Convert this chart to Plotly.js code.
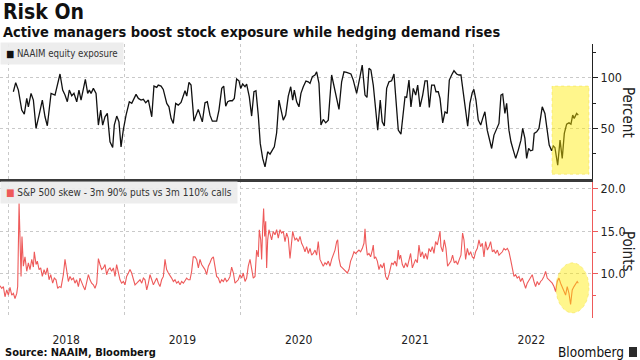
<!DOCTYPE html>
<html>
<head>
<meta charset="utf-8">
<script src="https://cdn.plot.ly/plotly-3.0.1.min.js"></script>
<style>html,body{margin:0;padding:0;background:#fff;}#chart{width:640px;height:360px;}</style>
</head>
<body>
<div id="chart"></div>
<script>
// ---- Data (x in decimal years) ----
const yearLabels = ['2018','2019','2020','2021','2022'];
const yearStarts = [2018, 2019, 2020, 2021, 2022];

const naaimDates = [
2018.046,2018.066,2018.089,2018.118,2018.140,2018.161,2018.175,2018.198,2018.218,2018.241,
2018.267,2018.295,2018.318,2018.338,2018.370,2018.404,2018.447,2018.470,2018.490,2018.510,
2018.527,2018.548,2018.567,2018.591,2018.610,2018.628,2018.665,2018.685,2018.699,2018.714,
2018.734,2018.757,2018.777,2018.797,2018.814,2018.834,2018.854,2018.877,2018.900,2018.914,
2018.935,2018.954,2018.972,2018.991,2019.015,2019.043,2019.064,2019.101,2019.121,2019.144,
2019.164,2019.184,2019.207,2019.236,2019.255,2019.279,2019.292,2019.316,2019.335,2019.365,
2019.384,2019.402,2019.421,2019.442,2019.464,2019.488,2019.522,2019.537,2019.556,2019.574,
2019.599,
2019.636,2019.671,2019.694,2019.714,2019.737,2019.757,2019.780,2019.794,2019.814,2019.838,
2019.855,2019.872,2019.889,2019.909,2019.929,2019.946,2019.966,2019.986,2020.001,2020.018,
2020.038,2020.052,2020.075,2020.095,2020.115,2020.132,2020.152,2020.169,2020.190,2020.210,
2020.233,2020.253,2020.273,2020.290,2020.310,2020.330,2020.347,2020.367,2020.388,2020.410,
2020.431,2020.448,2020.462,2020.482,2020.502,2020.519,2020.539,2020.562,2020.582,2020.597,
2020.617,2020.640,2020.654,2020.674,2020.691,2020.711,2020.732,2020.754,2020.783,2020.806,
2020.826,2020.846,2020.869,2020.889,2020.912,2020.932,2020.949,2020.969,2020.998,2021.027,
2021.046,2021.070,2021.087,2021.104,2021.121,2021.141,2021.158,2021.179,2021.201,2021.218,
2021.236,2021.256,2021.276,2021.299,
2021.319,2021.336,2021.356,2021.379,2021.399,2021.414,2021.428,2021.448,2021.465,2021.485,
2021.506,2021.523,2021.543,2021.566,2021.586,2021.605,2021.623,2021.643,2021.666,2021.680,
2021.700,2021.715,2021.738,2021.758,2021.777,2021.795,2021.815,2021.835,2021.858,2021.878,
2021.895,2021.915,2021.935,2021.953,2021.972,2021.992,2022.006,2022.024,2022.044,2022.065,
2022.082,2022.101,2022.121,2022.139,2022.159,2022.179,2022.202,2022.222,2022.239,2022.254,
2022.273,2022.288,2022.308,2022.325,2022.345,2022.366,2022.388,2022.411,2022.426,2022.445,
2022.460,2022.477,2022.494,2022.512,2022.525,2022.546,2022.566,2022.594,2022.617,2022.637,
2022.654,2022.675,2022.689,2022.703,2022.727,2022.747,2022.766,2022.784,2022.804,2022.824,
2022.841,2022.856,2022.869,2022.890,2022.904
];
const naaimValues = [
86.2,95.1,87.8,68.1,64.1,79.6,71.3,84.6,78.0,50.0,
63.1,78.0,61.5,52.6,84.6,82.9,103.7,87.8,82.9,76.3,
87.8,82.2,84.6,76.3,87.8,78.0,98.4,84.6,87.8,84.6,
89.5,84.6,53.3,68.1,53.3,61.5,64.8,36.8,31.2,53.3,
62.2,56.5,31.8,48.3,63.1,76.3,74.7,83.6,79.6,78.0,
78.7,75.3,78.0,61.5,91.8,90.5,92.8,91.8,88.5,74.7,
71.3,59.9,54.9,74.7,73.0,75.7,87.2,81.9,95.5,92.8,
57.2,
68.8,56.5,75.3,76.3,63.1,57.2,57.2,57.2,68.1,89.5,
91.8,72.0,76.3,77.3,77.3,79.6,98.7,97.0,89.5,93.8,
91.1,93.8,81.2,62.2,86.2,87.2,63.1,35.2,20.4,12.1,
26.9,24.6,28.6,31.8,45.7,78.0,68.8,58.2,63.1,81.9,
91.1,78.0,87.8,76.3,71.3,84.6,91.1,96.7,96.0,94.4,
101.0,102.7,105.9,94.4,53.3,58.9,55.5,58.2,102.7,89.5,
79.6,68.8,96.0,105.9,105.3,104.3,103.7,97.7,84.6,101.0,
112.5,82.9,80.6,109.3,107.6,92.8,74.7,48.3,78.0,56.5,
52.3,89.5,96.0,97.0,
103.7,81.2,48.3,44.4,64.8,81.2,80.6,97.7,71.3,89.5,
82.9,92.8,71.3,82.9,97.0,97.0,70.7,92.8,92.8,86.2,
86.2,79.6,55.5,66.4,64.8,97.7,102.7,106.9,103.7,102.7,
102.7,84.6,68.1,52.3,74.7,85.2,88.5,78.0,58.2,53.3,
59.9,66.4,48.3,38.4,30.2,43.4,50.0,54.9,82.9,83.9,
64.8,74.7,48.3,36.8,28.6,20.4,28.6,38.4,50.0,40.1,
20.4,30.2,27.9,28.6,45.1,46.7,50.0,71.3,64.8,50.0,
33.5,27.9,32.8,31.2,13.7,38.4,20.4,45.1,54.2,55.5,
54.2,63.1,59.9,64.8,63.1
];

const skewDates = [
2017.931,2017.946,2017.960,2017.974,2017.989,2018.003,2018.017,2018.032,2018.046,2018.060,
2018.075,2018.083,2018.095,2018.103,2018.112,2018.120,2018.132,2018.146,2018.161,2018.175,
2018.189,2018.204,2018.218,2018.226,2018.241,2018.252,2018.267,2018.281,2018.295,2018.310,
2018.324,2018.338,2018.353,2018.367,2018.384,2018.398,2018.413,2018.427,2018.441,2018.456,
2018.476,2018.490,2018.504,2018.519,2018.533,2018.547,2018.562,2018.576,2018.590,2018.605,
2018.619,2018.634,2018.648,2018.662,2018.677,2018.691,2018.705,2018.719,2018.734,2018.748,
2018.763,2018.777,2018.791,2018.805,2018.820,2018.834,2018.848,2018.863,2018.877,2018.891,
2018.906,2018.920,2018.934,2018.949,2018.963,2018.977,2018.992,2019.006,2019.020,2019.035,
2019.049,2019.063,2019.078,2019.092,2019.107,2019.121,2019.135,2019.150,2019.164,2019.178,
2019.193,2019.207,2019.221,2019.236,2019.250,2019.264,2019.279,2019.293,2019.307,2019.321,
2019.336,2019.350,2019.364,2019.379,2019.393,2019.407,2019.422,2019.436,2019.450,2019.465,
2019.479,2019.493,2019.508,2019.522,2019.536,2019.551,2019.565,2019.579,2019.593,
2019.608,2019.622,2019.637,2019.651,2019.665,2019.680,2019.694,2019.708,2019.723,2019.737,
2019.751,2019.766,2019.780,2019.794,2019.809,2019.823,2019.837,2019.852,2019.866,2019.880,
2019.895,2019.909,2019.923,2019.938,2019.952,2019.966,2019.980,2019.995,2020.009,2020.023,
2020.038,2020.052,2020.066,2020.081,2020.095,2020.109,2020.124,2020.138,2020.152,2020.161,
2020.173,2020.181,2020.190,2020.198,2020.207,2020.216,2020.224,2020.233,2020.244,2020.256,
2020.267,2020.281,2020.296,2020.310,2020.324,2020.339,2020.353,2020.367,2020.382,2020.396,
2020.410,2020.425,2020.439,2020.448,2020.459,2020.468,2020.482,2020.496,2020.511,2020.525,
2020.539,2020.554,2020.568,2020.582,2020.597,2020.611,2020.625,2020.640,2020.654,2020.668,
2020.683,2020.697,2020.711,2020.726,2020.740,2020.754,2020.769,2020.783,2020.797,2020.812,
2020.826,2020.835,2020.846,2020.860,2020.875,2020.889,2020.903,2020.918,2020.932,2020.946,
2020.961,2020.975,2020.989,2021.004,2021.018,2021.032,2021.047,2021.061,2021.070,2021.078,
2021.090,2021.104,2021.118,2021.133,2021.141,2021.150,2021.161,2021.176,2021.190,2021.204,
2021.219,2021.233,2021.247,2021.262,2021.276,
2021.299,2021.313,2021.328,2021.342,2021.356,2021.365,2021.376,2021.391,2021.405,2021.419,
2021.434,2021.448,2021.462,2021.477,2021.491,2021.505,2021.520,2021.534,2021.548,2021.563,
2021.577,2021.591,2021.606,2021.620,2021.634,2021.649,2021.663,2021.677,2021.692,2021.706,
2021.715,2021.723,2021.738,2021.752,2021.766,2021.780,2021.795,2021.809,2021.823,2021.838,
2021.852,2021.866,2021.881,2021.895,2021.909,2021.921,2021.935,2021.950,2021.964,2021.978,
2021.993,2022.007,2022.021,2022.036,2022.050,2022.064,2022.079,2022.093,2022.107,2022.122,
2022.136,2022.150,2022.165,2022.179,2022.193,2022.208,2022.222,2022.236,2022.251,2022.265,
2022.279,2022.294,2022.308,2022.322,2022.337,2022.351,2022.365,2022.379,2022.394,2022.408,
2022.423,2022.437,2022.451,2022.465,2022.480,2022.494,2022.508,2022.523,2022.537,2022.551,
2022.566,2022.580,2022.594,2022.609,2022.623,2022.637,2022.652,2022.666,2022.680,2022.695,
2022.709,2022.723,2022.738,2022.752,2022.766,2022.781,2022.795,2022.809,2022.824,2022.838,
2022.852,2022.867,2022.881,2022.895,2022.904
];
const skewValues = [
8.6,8.3,8.5,7.3,8.1,7.5,8.4,7.5,7.7,7.1,
7.7,8.5,18.3,13.2,9.7,14.4,10.9,12.0,10.3,11.3,
10.5,11.7,10.8,12.6,11.1,11.5,10.5,10.7,9.7,10.5,
9.9,10.7,9.3,9.9,8.9,9.5,9.3,8.3,8.5,8.4,
9.9,11.7,10.5,9.1,9.7,9.3,9.5,8.9,9.3,8.5,
9.5,8.9,8.5,8.1,8.9,9.9,9.3,8.9,8.7,8.3,
8.9,11.8,11.1,10.5,10.7,11.1,9.9,10.5,10.7,10.3,
10.7,9.7,11.1,10.1,9.3,8.9,9.1,8.7,9.7,10.1,
10.5,10.1,9.3,8.7,8.9,9.1,9.3,8.9,9.5,9.3,
8.1,8.9,9.9,9.3,8.7,9.1,9.5,8.9,8.5,9.3,
9.7,11.7,10.5,10.1,9.7,9.5,9.1,9.3,8.9,9.1,
8.7,9.1,8.9,9.3,9.5,9.3,9.3,10.3,12.0,
12.0,11.7,10.7,11.7,11.1,10.7,10.5,9.9,10.9,11.3,
11.8,12.0,10.7,9.7,9.5,8.9,9.3,9.1,9.5,9.1,
9.3,9.7,10.8,10.1,8.9,9.1,9.3,9.9,9.5,10.1,
9.1,9.5,10.9,11.7,10.5,9.5,9.7,12.8,12.0,15.2,
14.0,11.7,15.4,17.7,14.4,16.2,10.7,14.0,15.2,14.4,
14.0,15.0,14.6,15.2,14.2,15.2,14.8,15.0,13.8,14.8,
14.2,11.8,13.6,15.0,14.4,14.0,14.2,13.8,14.4,13.6,
13.2,12.6,13.2,12.4,13.0,12.2,12.4,12.8,12.2,13.8,
11.7,11.3,10.9,11.3,11.1,11.5,10.9,11.7,12.2,12.8,
13.8,14.0,11.8,10.9,10.7,10.5,10.3,10.1,10.5,11.5,
12.0,12.6,12.4,12.6,12.8,12.6,13.0,13.6,15.3,13.6,
12.2,12.4,12.0,12.8,13.4,11.8,12.0,11.5,10.5,11.1,
10.7,11.3,9.7,9.3,9.9,
11.3,11.1,11.5,10.9,12.8,11.7,12.2,11.1,10.7,11.3,
10.8,11.5,12.4,10.7,11.1,11.7,11.3,13.4,12.0,12.6,
11.8,12.4,11.7,13.0,12.6,13.2,12.4,13.8,13.4,14.2,
15.0,13.2,12.6,14.0,13.0,10.9,11.3,11.5,12.2,11.3,
11.5,11.1,11.7,12.2,14.8,14.0,11.7,13.0,12.2,12.6,
12.0,11.8,12.6,13.0,14.0,13.2,13.6,12.0,13.8,12.8,
13.2,13.8,12.6,12.8,12.4,12.8,12.2,12.4,12.6,13.0,
12.8,13.0,12.6,11.7,10.5,9.7,9.9,9.5,9.7,9.1,
9.5,8.9,8.3,8.9,9.3,9.7,9.9,9.1,8.5,9.1,
8.7,9.1,9.3,9.7,10.3,9.5,9.3,9.1,8.9,8.5,
7.9,9.1,9.5,8.9,8.5,8.1,7.5,8.5,7.7,6.4,
8.1,8.5,8.9,9.1,8.9
];

// ---- Styling ----
const FONT = '"DejaVu Sans Condensed", "DejaVu Sans", sans-serif';
const RED = '#ee5a5a';
const GRID = '#c9c9c9';
const HL_FILL = 'rgba(255,236,0,0.45)';
const HL_LINE = 'rgba(240,220,60,0.45)';

// plot area in pixels: x 0..592, y 44..318
const PX_W = 592, PX_TOP = 44, PX_BOT = 318, PH = PX_BOT - PX_TOP;
const px2paperX = p => p / PX_W;
const px2paperY = p => (PX_BOT - p) / PH;

const traces = [
  {x: naaimDates, y: naaimValues, xaxis: 'x2', yaxis: 'y2', type: 'scatter', mode: 'lines',
   line: {color: '#111111', width: 1.3}, hoverinfo: 'skip'},
  {x: skewDates, y: skewValues, xaxis: 'x', yaxis: 'y', type: 'scatter', mode: 'lines',
   line: {color: RED, width: 1.1}, hoverinfo: 'skip'}
];

const minorGrid = {tickvals: yearStarts, showgrid: true, gridcolor: GRID, griddash: 'dot', gridwidth: 1, ticks: ''};

const layout = {
  width: 640, height: 360,
  margin: {l: 0, r: 640 - PX_W, t: PX_TOP, b: 360 - PX_BOT, pad: 0},
  paper_bgcolor: '#ffffff', plot_bgcolor: '#ffffff',
  showlegend: false,
  font: {family: FONT, color: '#222', size: 12},
  xaxis: {
    domain: [0, 1], range: [2017.931, 2023.022], anchor: 'y',
    tickvals: yearStarts.map(v => v + 0.5), ticktext: yearLabels,
    ticks: 'outside', ticklen: 11, tickcolor: 'rgba(0,0,0,0)',
    showgrid: false, zeroline: false, showline: false,
    tickfont: {family: FONT, size: 12, color: '#222'},
    minor: minorGrid
  },
  xaxis2: {
    domain: [0, 1], matches: 'x', anchor: 'y2',
    tickvals: yearStarts.map(v => v + 0.5), showticklabels: false, ticks: '',
    showgrid: false, zeroline: false, showline: true, linecolor: '#3a3a3a', linewidth: 3,
    minor: minorGrid
  },
  yaxis: {
    domain: [0, 0.502], range: [4.8, 21.0], side: 'right', anchor: 'x',
    tickvals: [10, 15, 20], ticktext: ['10.0', '15.0', '20.0'],
    ticks: 'outside', ticklen: 5, tickcolor: RED, tickwidth: 1,
    showline: true, linecolor: RED, linewidth: 1,
    showgrid: true, gridcolor: GRID, griddash: 'dot', zeroline: false,
    tickfont: {family: FONT, size: 12.5, color: '#222'},
    minor: {tickvals: [7.5, 12.5, 17.5], ticks: 'outside', ticklen: 3, tickcolor: RED, showgrid: false}
  },
  yaxis2: {
    domain: [0.507, 1], range: [0, 133.3], side: 'right', anchor: 'x2',
    tickvals: [50, 100], ticktext: ['50', '100'],
    ticks: 'outside', ticklen: 5, tickcolor: '#222', tickwidth: 1,
    showline: true, linecolor: '#222', linewidth: 1,
    showgrid: true, gridcolor: GRID, griddash: 'dot', zeroline: false,
    tickfont: {family: FONT, size: 12.5, color: '#222'},
    minor: {tickvals: [25, 75, 125], ticks: 'outside', ticklen: 3, tickcolor: '#222', showgrid: false}
  },
  shapes: [
    {type: 'rect', xref: 'x2', yref: 'y2', x0: 2022.678, x1: 2022.996, y0: 4.8, y1: 91.8,
     fillcolor: HL_FILL, line: {color: HL_LINE, width: 1, dash: 'dot'}, layer: 'above'},
    {type: 'circle', xref: 'x', yref: 'y', x0: 2022.712, x1: 2022.996, y0: 5.4, y1: 11.3,
     fillcolor: HL_FILL, line: {color: HL_LINE, width: 1, dash: 'dot'}, layer: 'above'},
    {type: 'rect', xref: 'paper', yref: 'paper', x0: px2paperX(629), x1: px2paperX(637),
     y0: px2paperY(357), y1: px2paperY(347), fillcolor: '#2b2b2b', line: {width: 0}}
  ],
  annotations: [
    {text: '<b>Risk On</b>', xref: 'paper', yref: 'paper', x: px2paperX(1), y: px2paperY(12),
     xanchor: 'left', yanchor: 'middle', showarrow: false, font: {family: FONT, size: 21, color: '#111'}},
    {text: '<b>Active managers boost stock exposure while hedging demand rises</b>', xref: 'paper', yref: 'paper',
     x: px2paperX(1), y: px2paperY(32), xanchor: 'left', yanchor: 'middle', showarrow: false,
     font: {family: FONT, size: 14.5, color: '#111'}},
    {text: '<span style="color:#111">■</span> NAAIM equity exposure', xref: 'paper', yref: 'paper',
     x: 0, y: px2paperY(54), xanchor: 'left', yanchor: 'middle', showarrow: false,
     bgcolor: 'rgba(236,236,236,0.92)', borderpad: 5, font: {family: FONT, size: 9.6, color: '#333'}},
    {text: '<span style="color:' + RED + '">■</span> S&P 500 skew - 3m 90% puts vs 3m 110% calls', xref: 'paper', yref: 'paper',
     x: 0, y: px2paperY(192), xanchor: 'left', yanchor: 'middle', showarrow: false,
     bgcolor: 'rgba(236,236,236,0.92)', borderpad: 5, font: {family: FONT, size: 10, color: '#333'}},
    {text: 'Percent', xref: 'paper', yref: 'paper', x: px2paperX(628), y: px2paperY(112),
     xanchor: 'center', yanchor: 'middle', textangle: 90, showarrow: false,
     font: {family: FONT, size: 15, color: '#222'}},
    {text: 'Points', xref: 'paper', yref: 'paper', x: px2paperX(628), y: px2paperY(251),
     xanchor: 'center', yanchor: 'middle', textangle: 90, showarrow: false,
     font: {family: FONT, size: 15, color: '#222'}},
    {text: '<b>Source: NAAIM, Bloomberg</b>', xref: 'paper', yref: 'paper', x: px2paperX(3), y: px2paperY(352),
     xanchor: 'left', yanchor: 'middle', showarrow: false, font: {family: FONT, size: 11, color: '#111'}},
    {text: 'Bloomberg', xref: 'paper', yref: 'paper', x: px2paperX(626), y: px2paperY(352),
     xanchor: 'right', yanchor: 'middle', showarrow: false, font: {family: FONT, size: 13.5, color: '#111'}}
  ]
};

Plotly.newPlot('chart', traces, layout, {staticPlot: true, displayModeBar: false});
</script>
</body>
</html>
